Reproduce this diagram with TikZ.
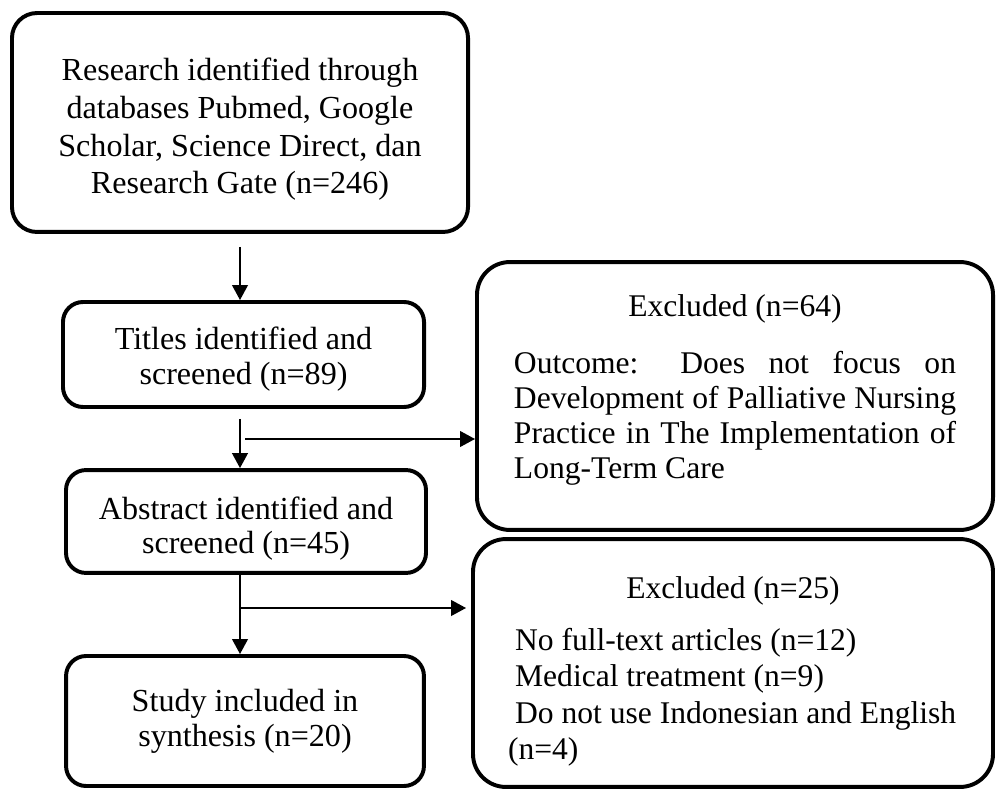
\documentclass[tikz,border=0pt]{standalone}
\usepackage{fontspec}
\setmainfont{Liberation Serif}
\usetikzlibrary{arrows.meta,calc}
\begin{document}
\begin{tikzpicture}[x=0.38pt,y=-0.38pt,
  flowbox/.style={draw, line width=1.5pt, rounded corners=7.6pt, inner sep=0pt,
                  font=\fontsize{12.2}{13.3}\selectfont},
  exclbox/.style={draw, line width=1.5pt, rounded corners=12.5pt, inner sep=0pt,
                  font=\fontsize{12}{13.4}\selectfont},
  arr/.style={-{Triangle[length=5.7pt,width=6pt]}, line width=0.65pt}]

\useasboundingbox (0,0) rectangle (996,790);
\clip (0,0) rectangle (996,790);

\node[flowbox, rounded corners=9.5pt, minimum width=173.3pt,
      font=\fontsize{12.2}{14.3}\selectfont] (b1) at (240,122.5)
  {\parbox[c][83.2pt][t]{168pt}{\centering\rule{0pt}{25.8pt}Research identified through\\databases Pubmed, Google\\Scholar, Science Direct, dan\\Research Gate (n=246)}};
\node[flowbox, minimum width=137.2pt] (b2) at (243.5,354.5)
  {\parbox[c][39.9pt][t]{132pt}{\centering\rule{0pt}{17.9pt}Titles identified and\\screened (n=89)}};
\node[flowbox, minimum width=136.8pt, font=\fontsize{12.2}{13.0}\selectfont] (b3) at (246,521.5)
  {\parbox[c][39.1pt][t]{132pt}{\centering\rule{0pt}{18.6pt}Abstract identified and\\screened (n=45)}};
\node[flowbox, minimum width=136pt] (b4) at (245,721)
  {\parbox[c][49.4pt][t]{131pt}{\centering\rule{0pt}{20.9pt}Study included in\\synthesis (n=20)}};

\node[exclbox, minimum width=196.1pt] (e1) at (735,396)
  {\parbox[c][101.8pt][t]{168pt}{\centering\rule{0pt}{20.5pt}Excluded (n=64)\\[8.3pt]
   \makebox[168pt][s]{Outcome: Does not focus on}\\
   \makebox[168pt][s]{Development of Palliative Nursing}\\
   \makebox[168pt][s]{Practice in The Implementation of}\\
   \makebox[168pt][l]{Long-Term Care}}};

\node[exclbox, minimum width=197.6pt, font=\fontsize{12}{13.7}\selectfont] (e2) at (733,663)
  {\parbox[c][94.2pt][t]{171pt}{\rule{0pt}{22.4pt}\makebox[171pt][c]{Excluded (n=25)}\\[6.4pt]
   \mbox{\hspace*{2.7pt}No full-text articles (n=12)}\\
   \mbox{\hspace*{2.7pt}Medical treatment (n=9)}\\
   \mbox{\hspace*{2.7pt}Do not use Indonesian and English}\\
   \mbox{(n=4)}}};

\coordinate (j1) at (245,439);
\coordinate (j2) at (240,608);

\draw[arr] ($(b1.south)+(0,13)$) -- (b1.south |- b2.north);
\draw[arr] ($(b1.south |- b2.south)+(0,10)$) -- (b1.south |- b3.north);
\draw[arr] (j1) -- (j1 -| e1.west);
\draw[arr] (b1.south |- b3.south) -- (b1.south |- b4.north);
\draw[arr] (j2) -- ($(j2 -| e2.west)+(-5,0)$);
\end{tikzpicture}
\end{document}
